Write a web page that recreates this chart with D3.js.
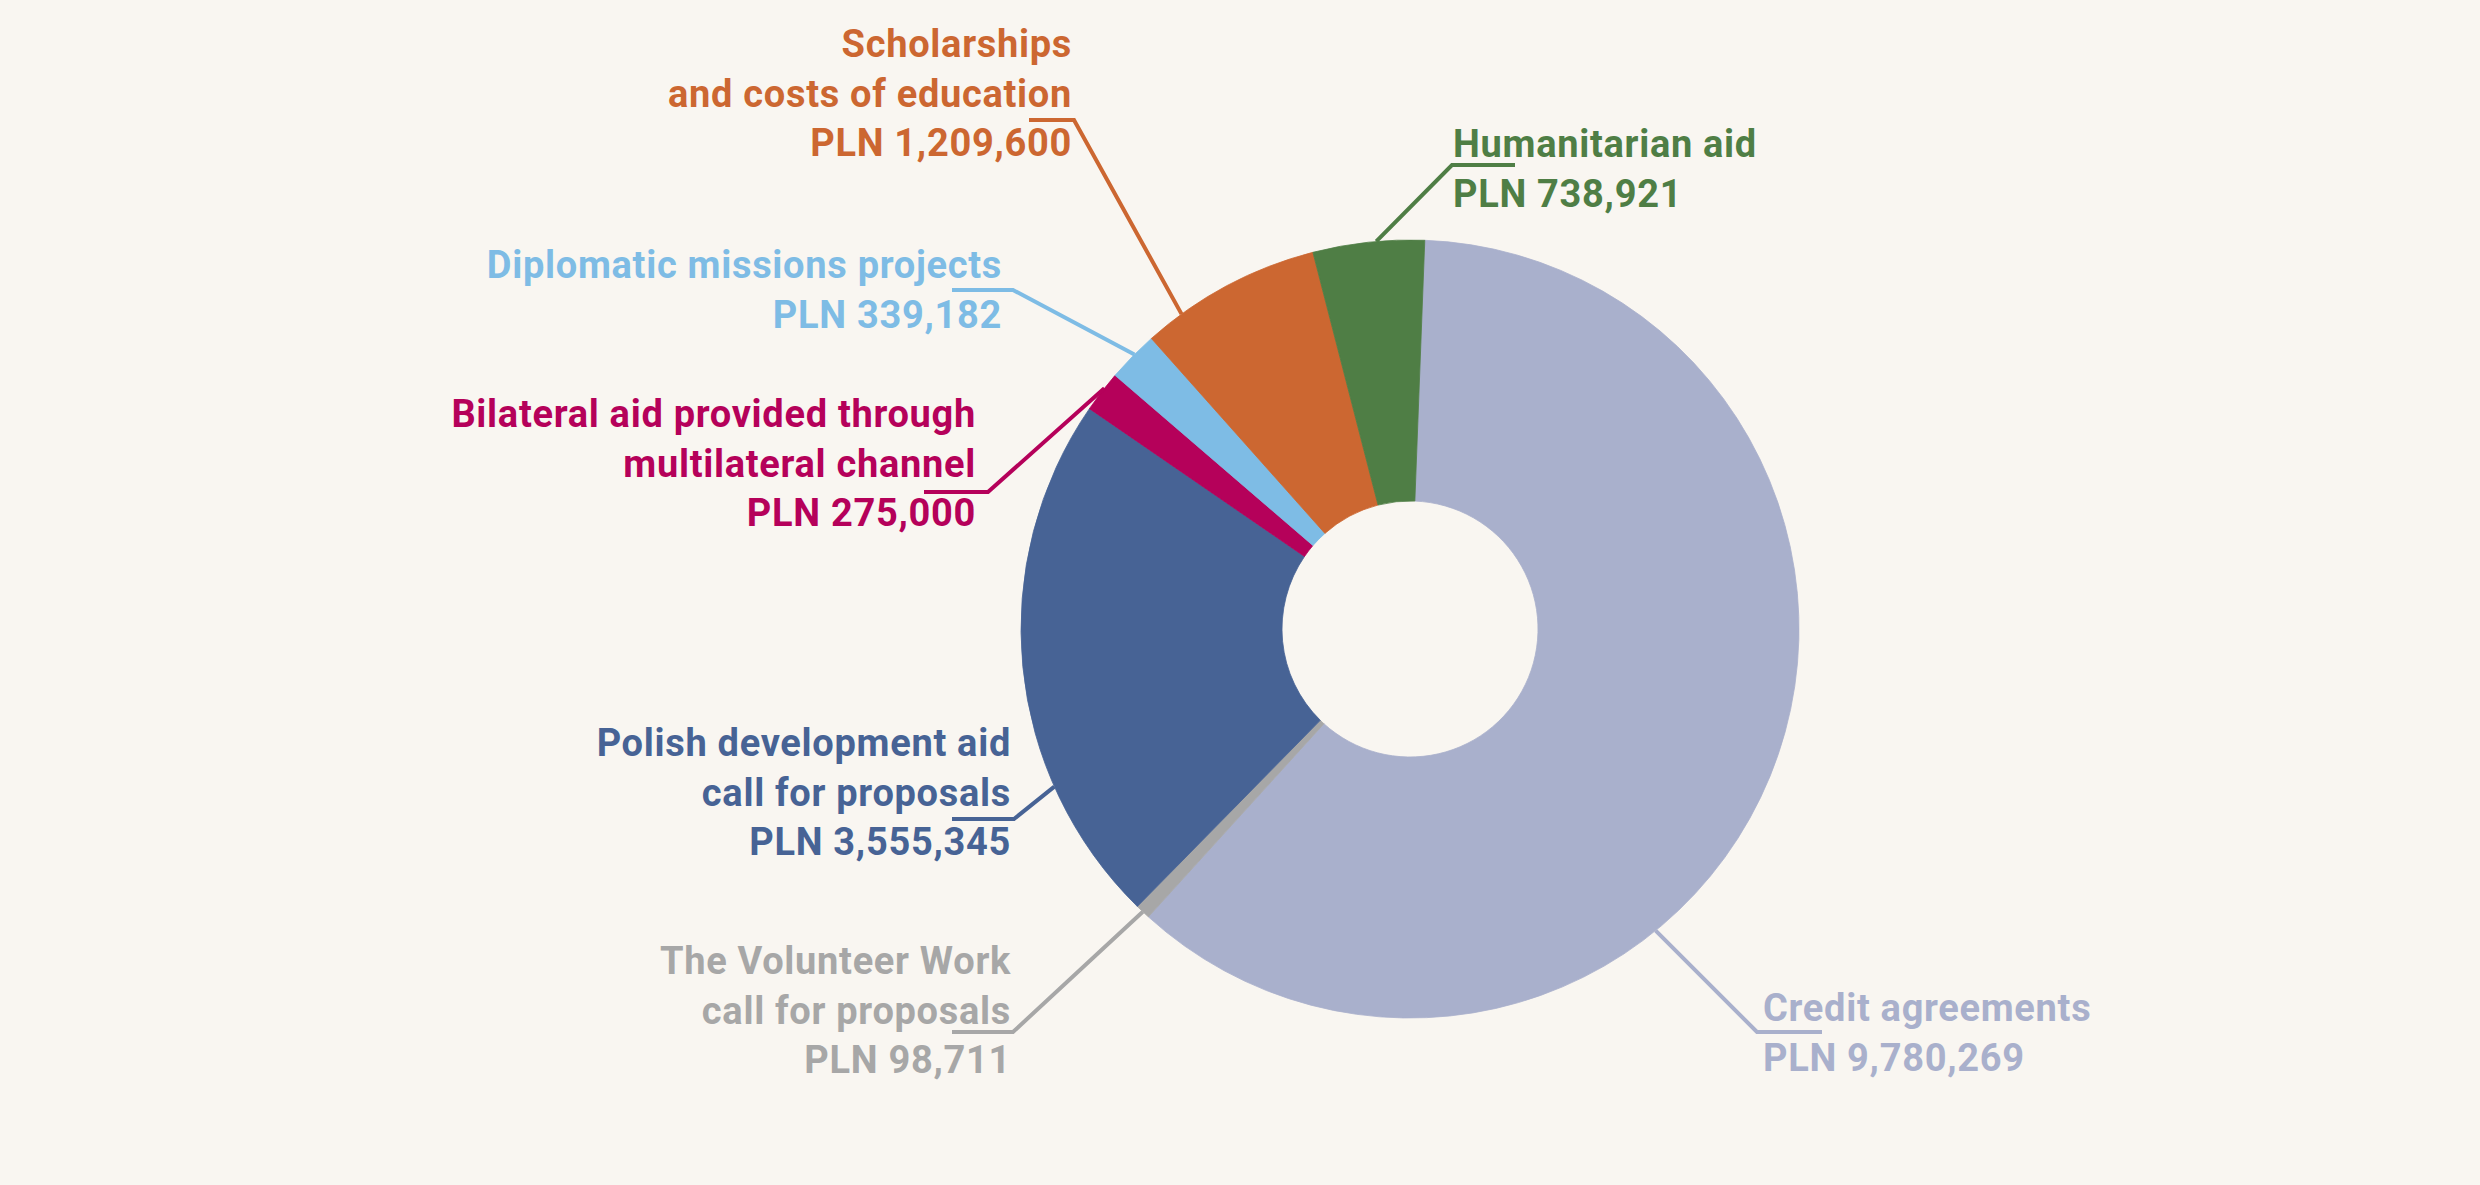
<!DOCTYPE html>
<meta charset="utf-8">
<style>
body { margin: 0; background: #f9f6f1; }
.label { font-family: Roboto, "Noto Sans", sans-serif; font-weight: 700; font-size: 38px; letter-spacing: 0.7px; }
.leader { fill: none; stroke-width: 4; }
</style>
<body>
<script src="https://cdn.jsdelivr.net/npm/d3@7"></script>
<script>

var width = 2480,
    height = 1185;

// Data, clockwise from 12 o'clock
var categories = ["Credit agreements", "The Volunteer Work call for proposals",
    "Polish development aid call for proposals", "Bilateral aid provided through multilateral channel",
    "Diplomatic missions projects", "Scholarships and costs of education", "Humanitarian aid"];
var values = [9780269, 98711, 3555345, 275000, 339182, 1209600, 738921];
var labelLines = [
    ["Credit agreements"],
    ["The Volunteer Work", "call for proposals"],
    ["Polish development aid", "call for proposals"],
    ["Bilateral aid provided through", "multilateral channel"],
    ["Diplomatic missions projects"],
    ["Scholarships", "and costs of education"],
    ["Humanitarian aid"]];
var colors = ["#a9b0cc", "#a7a7a7", "#476395", "#b5015a", "#7ebce5", "#cc6731", "#4f7e45"];

// Label placement (text x, first baseline, elbow of leader, end of underline, spot inside slice)
var layout = [
    {anchor: "start", x: 1763, y: 1021, elbow: [1757, 1032], hEnd: 1822, t: 0.63},
    {anchor: "end",   x: 1011, y: 974,  elbow: [1013, 1032], hEnd: 952,  t: 0.5},
    {anchor: "end",   x: 1011, y: 756,  elbow: [1014, 819],  hEnd: 952,  t: 0.27},
    {anchor: "end",   x: 976,  y: 427,  elbow: [988, 492],   hEnd: 924,  t: 0.6},
    {anchor: "end",   x: 1002, y: 278,  elbow: [1013, 290],  hEnd: 952,  t: 0.55},
    {anchor: "end",   x: 1072, y: 57,   elbow: [1074, 120],  hEnd: 1029, t: 0.21},
    {anchor: "start", x: 1453, y: 157,  elbow: [1452, 165],  hEnd: 1515, t: 0.57}];

var cx = 1410, cy = 629,
    outerR = 389, innerR = 128,
    lineH = 49.5,
    start = 0.038;

var svg = d3.select("body").append("svg")
    .attr("width", width)
    .attr("height", height);

var pie = d3.pie()
    .sort(null)
    .startAngle(start)
    .endAngle(start + 2 * Math.PI);

var arcs = pie(values);

var arc = d3.arc()
    .innerRadius(innerR)
    .outerRadius(outerR);

var fmt = d3.format(",");

var g = svg.append("g")
    .attr("transform", "translate(" + cx + "," + cy + ")");

g.selectAll("path")
    .data(arcs)
    .enter()
    .append("path")
    .attr("d", arc)
    .attr("fill", function(d, i) { return colors[i]; })
    .attr("stroke", function(d, i) { return colors[i]; })
    .attr("stroke-width", 0.8);

// leader lines: slice edge -> elbow -> underline
svg.append("g")
    .selectAll("path")
    .data(arcs)
    .enter()
    .append("path")
    .attr("class", "leader")
    .attr("stroke", function(d, i) { return colors[i]; })
    .attr("d", function(d, i) {
        var L = layout[i];
        var a = d.startAngle + L.t * (d.endAngle - d.startAngle);
        var p = [cx + outerR * Math.sin(a), cy - outerR * Math.cos(a)];
        return "M" + p + "L" + L.elbow + "L" + [L.hEnd, L.elbow[1]];
    });

// text labels
var labels = svg.append("g")
    .selectAll("text")
    .data(arcs)
    .enter()
    .append("text")
    .attr("class", "label")
    .attr("fill", function(d, i) { return colors[i]; })
    .attr("text-anchor", function(d, i) { return layout[i].anchor; });

labels.selectAll("tspan")
    .data(function(d, i) { return labelLines[i].concat(["PLN " + fmt(values[i])]).map(function(s) { return {s: s, i: i}; }); })
    .enter()
    .append("tspan")
    .attr("x", function(d) { return layout[d.i].x; })
    .attr("y", function(d, j) { return layout[d.i].y + j * lineH; })
    .text(function(d) { return d.s; });

</script>
